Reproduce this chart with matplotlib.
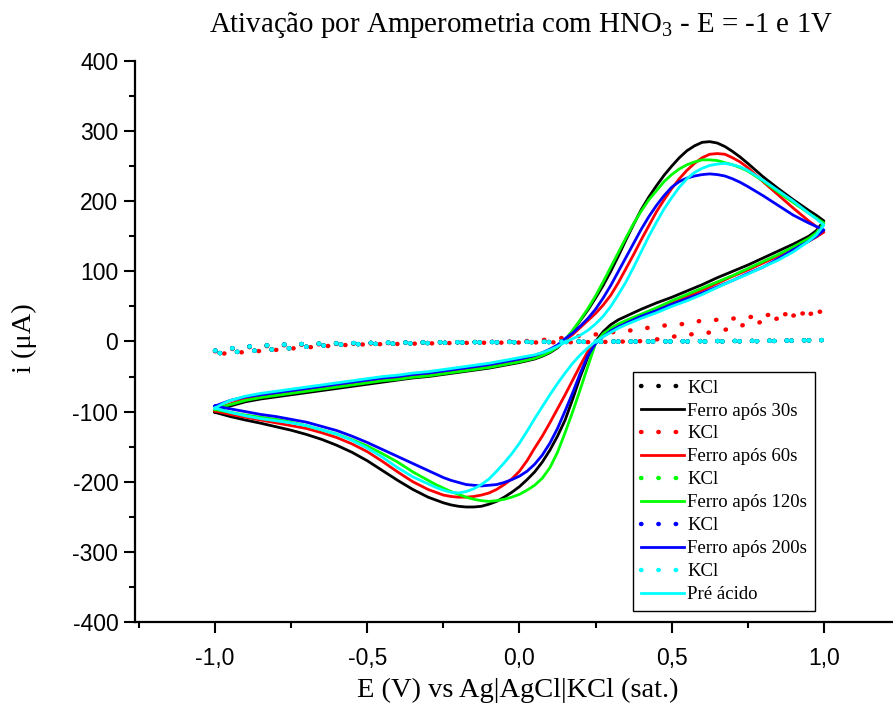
import matplotlib
matplotlib.use("Agg")
import matplotlib.pyplot as plt
from matplotlib.ticker import MultipleLocator, FixedLocator, FixedFormatter

# potential (V vs Ag|AgCl|KCl sat.), forward scan -1 -> 1
E_fwd = [-1.0, -0.975, -0.95, -0.9, -0.85, -0.8, -0.75, -0.7, -0.65, -0.6, -0.55,
         -0.5, -0.45, -0.4, -0.35, -0.3, -0.25, -0.2, -0.15, -0.1, -0.05, 0.0,
         0.05, 0.075, 0.1, 0.125, 0.15, 0.175, 0.2, 0.225, 0.25, 0.275, 0.3,
         0.325, 0.35, 0.375, 0.4, 0.425, 0.45, 0.475, 0.5, 0.525, 0.55, 0.575,
         0.6, 0.625, 0.65, 0.675, 0.7, 0.725, 0.75, 0.8,
         0.85, 0.9, 0.95, 0.975, 1.0]
# reverse scan 1 -> -1
E_rev = [1.0, 0.975, 0.95, 0.9, 0.85, 0.8, 0.75, 0.7, 0.65, 0.6, 0.55,
         0.5, 0.45, 0.4, 0.35, 0.325, 0.3, 0.275, 0.25,
         0.225, 0.2, 0.175, 0.15, 0.125, 0.1, 0.075, 0.05, 0.025, 0.0,
         -0.025, -0.05, -0.075, -0.1, -0.125, -0.15, -0.175, -0.2, -0.225, -0.25,
         -0.275, -0.3, -0.35, -0.4, -0.45, -0.5, -0.55, -0.6,
         -0.65, -0.7, -0.75, -0.8, -0.85, -0.9, -0.95, -1.0]

# current (uA)
i30_fwd = [-101, -96, -92, -86, -82, -79, -76, -73, -70, -67, -64,
           -61, -58, -55, -52, -50, -47, -44, -41, -38, -34, -30,
           -25, -21, -16, -9, 2, 15, 30, 45, 62, 80, 100,
           122, 145, 167, 188, 206, 222, 237, 250, 262, 272, 279,
           284, 285, 283, 278, 271, 263, 254, 235,
           218, 202, 187, 180, 172]
i30_rev = [172, 158, 150, 139, 129, 119, 109, 100, 91, 81, 72,
           63, 55, 46, 36, 31, 24, 14, 0,
           -22, -50, -82, -112, -135, -155, -172, -186, -197, -207,
           -215, -222, -228, -232, -235, -236, -236, -235, -233, -230,
           -226, -222, -211, -198, -184, -170, -158, -148,
           -139.5, -132.5, -126.5, -121.5, -116.5, -112, -107, -101]

i60_fwd = [-99, -93, -89, -82, -78, -75, -72, -69, -66, -63, -60,
           -57, -54, -52, -49, -47, -44, -41, -38, -35, -31, -27,
           -22, -18, -13, -6, 2, 10, 20, 30, 40, 52, 66,
           84, 104, 124, 145, 165, 185, 202, 218, 232, 244, 254,
           262, 267, 268, 267, 262, 256, 248, 228,
           209, 190, 172, 164, 156]
i60_rev = [156, 149, 143, 133, 122, 112, 102, 93, 83, 73, 64,
           55, 46, 37, 28, 23, 17, 9, -1,
           -14, -34, -55, -76, -96, -116, -135, -152, -170, -185,
           -196, -204, -211, -216, -219, -221, -222, -222, -221, -219,
           -215, -211, -200, -186, -171, -157, -146, -137,
           -130, -124, -120, -116, -112, -108, -104, -99]

i120_fwd = [-97, -93, -90, -84, -80, -77, -74, -71, -68, -65, -62,
            -59, -56, -54, -51, -49, -46, -43, -40, -37, -33, -29,
            -24, -20, -15, -8, 3, 16, 31, 47, 65, 85, 106,
            127, 148, 168, 186, 202, 215, 228, 238, 246, 252, 256,
            259, 259, 258, 255, 252, 248, 243, 229,
            213, 198, 183, 176, 169]
i120_rev = [169, 155, 147, 135, 124, 114, 104, 94, 85, 76, 67,
            58, 48, 39, 30, 25, 19, 11, -3,
            -35, -68, -100, -130, -158, -180, -195, -205, -212, -218,
            -222, -225, -227, -228, -227, -225, -222, -218, -214, -209,
            -204, -198, -186, -172, -160, -149, -140, -132,
            -126, -120, -115, -111, -108, -105, -101, -97]

i200_fwd = [-92, -88, -84, -79, -76, -73, -70, -67, -64, -61, -58,
            -55, -52, -50, -47, -45, -42, -39, -36, -33, -29, -25,
            -20, -16, -11, -5, 4, 12, 22, 33, 46, 62, 80,
            100, 120, 140, 160, 178, 194, 208, 220, 228, 233, 236,
            238, 239, 238, 236, 232, 227, 221, 208,
            194, 180, 169, 164, 159]
i200_rev = [159, 150, 143, 131, 118, 106, 97, 87, 78, 69, 61,
            53, 44, 36, 26, 21, 15, 7, -3,
            -20, -45, -73, -99, -124, -145, -162, -175, -185, -192,
            -197, -201, -204, -205, -206, -205, -204, -201, -198, -194,
            -189, -184, -174, -164, -154, -144, -135, -127,
            -121, -115, -111, -107, -104, -100, -96, -92]

ipre_fwd = [-95, -89, -84, -78, -74, -71, -68, -65, -62, -59, -56,
            -53, -50, -48, -45, -43, -40, -37, -34, -31, -27, -23,
            -19, -16, -12, -7, -1, 4, 9, 16, 25, 36, 50,
            67, 85, 106, 128, 150, 170, 189, 205, 220, 232, 241,
            247, 251, 253, 254, 252, 249, 244, 230,
            215, 200, 183, 175, 166]
ipre_rev = [166, 152, 143, 128, 116, 106, 96, 87, 77, 67, 58,
            50, 41, 33, 24, 19, 13, 7, 0,
            -9, -19, -31, -45, -60, -76, -93, -110, -128, -145,
            -160, -173, -185, -196, -204, -210, -214, -216, -215, -212,
            -208, -203, -193, -180, -165, -152, -141, -132,
            -126, -120, -116, -113, -110, -106, -101, -95]

# KCl blank scans
kcl_E = [-1.0, -0.95, -0.9, -0.85, -0.8, -0.75, -0.7, -0.6, -0.5, -0.4,
         -0.2, 0.0, 0.2, 0.4, 0.6, 0.8, 1.0,
         0.8, 0.6, 0.4, 0.2, 0.0, -0.2, -0.4, -0.5, -0.6, -0.65,
         -0.7, -0.75, -0.8, -0.85, -0.9, -0.95, -1.0]
kcl_i = [-13, -10, -7.5, -6, -5, -4, -3.5, -2.6, -2, -1.5,
         -1, -0.5, 0, 0, 0.5, 1, 2,
         0.5, 0, 0, -0.5, -1, -1.5, -3, -3.5, -4.5, -6,
         -7.5, -9.5, -11, -12.5, -14, -15.5, -17]

kcl60_E = [-1.0, -0.95, -0.9, -0.85, -0.8, -0.75, -0.7, -0.6, -0.5, -0.4,
           -0.2, 0.0, 0.05, 0.1, 0.2, 0.26, 0.3, 0.37, 0.43, 0.48,
           0.54, 0.59, 0.65, 0.71, 0.76, 0.82, 0.88, 0.93, 1.0,
           0.95, 0.9, 0.85, 0.8, 0.74, 0.69, 0.63, 0.57, 0.52, 0.46,
           0.4, 0.3, 0.2, 0.0, -0.2, -0.4, -0.5, -0.6, -0.65, -0.7,
           -0.75, -0.8, -0.85, -0.9, -0.95, -1.0]
kcl60_i = [-14, -11, -8.5, -7, -6, -5, -4.5, -3.5, -3, -2,
           -1, 0, 1.5, 3, 8, 10.5, 13, 16, 20, 23,
           25, 29, 31, 33, 35, 38, 39, 40, 43,
           39, 37, 33, 28, 24, 18, 13, 10.5, 8, 3.5,
           0.5, -0.5, -1, -1.5, -2, -3.5, -4, -5.5, -7, -8.5,
           -10, -12, -13.5, -15, -16.5, -18]

labels = ["Ferro após 30s", "Ferro após 60s", "Ferro após 120s",
          "Ferro após 200s", "Pré ácido"]
colors = ["#000000", "#FF0000", "#00FF00", "#0000FF", "#00FFFF"]

x_ticks = [-1.0, -0.5, 0.0, 0.5, 1.0]
x_tick_labels = ["-1,0", "-0,5", "0,0", "0,5", "1,0"]
y_ticks = [-400, -300, -200, -100, 0, 100, 200, 300, 400]
y_tick_labels = ["-400", "-300", "-200", "-100", "0", "100", "200", "300", "400"]

plt.rcParams["font.family"] = ["Liberation Serif", "DejaVu Serif"]
plt.rcParams["mathtext.fontset"] = "custom"
plt.rcParams["mathtext.rm"] = "Liberation Serif"
plt.rcParams["mathtext.it"] = "Liberation Serif:italic"

fig = plt.figure(figsize=(8.93, 7.13), dpi=100)
ax = fig.add_axes([0.15118, 0.12763, 0.85666, 0.78682])

cv = [(i30_fwd, i30_rev), (i60_fwd, i60_rev), (i120_fwd, i120_rev),
      (i200_fwd, i200_rev), (ipre_fwd, ipre_rev)]
kcl = [(kcl_E, kcl_i), (kcl60_E, kcl60_i), (kcl_E, kcl_i),
       (kcl_E, kcl_i), (kcl_E, kcl_i)]

dot = (0, (0.1, 3.8))
for (fw, rv), (ke, ki), lab, c in zip(cv, kcl, labels, colors):
    assert len(fw) == len(E_fwd) and len(rv) == len(E_rev)
    ax.plot(ke, ki, color=c, lw=3.2, linestyle=dot, dash_capstyle="round",
            label="KCl")
    ax.plot(E_fwd + E_rev, fw + rv, color=c, lw=2.0, label=lab,
            solid_joinstyle="round")

ax.set_xlim(-1.2627, 1.25)
ax.set_ylim(-400, 400)
ax.xaxis.set_major_locator(FixedLocator(x_ticks))
ax.xaxis.set_major_formatter(FixedFormatter(x_tick_labels))
ax.xaxis.set_minor_locator(MultipleLocator(0.25))
ax.yaxis.set_major_locator(FixedLocator(y_ticks))
ax.yaxis.set_major_formatter(FixedFormatter(y_tick_labels))
ax.yaxis.set_minor_locator(MultipleLocator(50))

for s in ["top", "right"]:
    ax.spines[s].set_visible(False)
for s in ["left", "bottom"]:
    ax.spines[s].set_linewidth(1.6)

ax.tick_params(which="major", direction="out", length=8, width=1.5,
               labelsize=16.5, labelfontfamily="Liberation Sans")
ax.tick_params(which="minor", direction="out", length=4.5, width=1.5)
ax.tick_params(axis="x", which="major", pad=10)
ax.tick_params(axis="y", which="major", pad=4)

fig.text(521 / 893, 1 - 25 / 713,
         "Ativação por Amperometria com HNO$_3$ - E = -1 e 1V",
         ha="center", va="center", fontsize=20.8)
fig.text(518 / 893, 1 - 690 / 713, "E (V) vs Ag|AgCl|KCl (sat.)",
         ha="center", va="center", fontsize=20.5)
fig.text(24 / 893, 1 - 338 / 713, "i (μA)", rotation=90,
         ha="center", va="center", fontsize=20.5)

leg = ax.legend(loc="upper left", bbox_to_anchor=(633 / 893, 1 - 372 / 713),
                bbox_transform=fig.transFigure, borderaxespad=0,
                fontsize=13.5, frameon=True, fancybox=False, framealpha=1,
                edgecolor="black", handlelength=2.3, handletextpad=0.2,
                labelspacing=0.31, borderpad=0.4)
leg.get_frame().set_linewidth(1.0)

fig.savefig("out.png", dpi=100)
